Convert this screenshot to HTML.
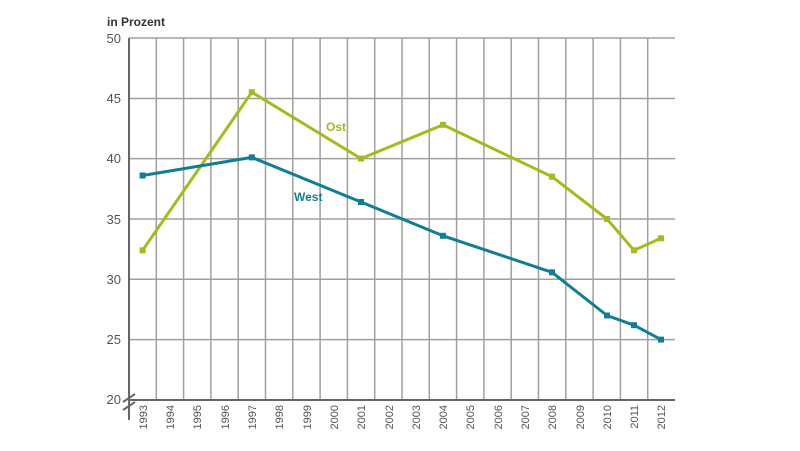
<!DOCTYPE html>
<html><head><style>body{margin:0;background:#fff}svg{display:block}text{font-family:"Liberation Sans",sans-serif}</style></head>
<body>
<svg width="800" height="451" viewBox="0 0 800 451" xmlns="http://www.w3.org/2000/svg">
<text x="107" y="26" font-size="12" font-weight="bold" fill="#333">in Prozent</text>
<g stroke="#a0a0a0" stroke-width="1.5">
<line x1="129" y1="38" x2="675" y2="38"/><line x1="129" y1="98.5" x2="675" y2="98.5"/><line x1="129" y1="158.6" x2="675" y2="158.6"/><line x1="129" y1="219" x2="675" y2="219"/><line x1="129" y1="279.3" x2="675" y2="279.3"/><line x1="129" y1="339.6" x2="675" y2="339.6"/>
<line x1="156.3" y1="38" x2="156.3" y2="400"/><line x1="183.6" y1="38" x2="183.6" y2="400"/><line x1="210.9" y1="38" x2="210.9" y2="400"/><line x1="238.2" y1="38" x2="238.2" y2="400"/><line x1="265.5" y1="38" x2="265.5" y2="400"/><line x1="292.8" y1="38" x2="292.8" y2="400"/><line x1="320.1" y1="38" x2="320.1" y2="400"/><line x1="347.4" y1="38" x2="347.4" y2="400"/><line x1="374.7" y1="38" x2="374.7" y2="400"/><line x1="402" y1="38" x2="402" y2="400"/><line x1="429.3" y1="38" x2="429.3" y2="400"/><line x1="456.6" y1="38" x2="456.6" y2="400"/><line x1="483.9" y1="38" x2="483.9" y2="400"/><line x1="511.2" y1="38" x2="511.2" y2="400"/><line x1="538.5" y1="38" x2="538.5" y2="400"/><line x1="565.8" y1="38" x2="565.8" y2="400"/><line x1="593.1" y1="38" x2="593.1" y2="400"/><line x1="620.4" y1="38" x2="620.4" y2="400"/><line x1="647.7" y1="38" x2="647.7" y2="400"/>
</g>
<g stroke="#666" stroke-width="2"><line x1="129" y1="38" x2="129" y2="420"/><line x1="129" y1="400" x2="675" y2="400"/>
<line x1="123" y1="402" x2="135" y2="394"/><line x1="123" y1="410" x2="135" y2="402"/></g>
<g font-size="13" fill="#555" text-anchor="end">
<text x="121" y="43">50</text><text x="121" y="103">45</text><text x="121" y="163">40</text><text x="121" y="224">35</text><text x="121" y="284">30</text><text x="121" y="344">25</text><text x="121" y="404">20</text></g>
<g font-size="11" fill="#555" text-anchor="end">
<text transform="translate(147,405) rotate(-90)">1993</text><text transform="translate(174,405) rotate(-90)">1994</text><text transform="translate(201,405) rotate(-90)">1995</text><text transform="translate(229,405) rotate(-90)">1996</text><text transform="translate(256,405) rotate(-90)">1997</text><text transform="translate(283,405) rotate(-90)">1998</text><text transform="translate(311,405) rotate(-90)">1999</text><text transform="translate(338,405) rotate(-90)">2000</text><text transform="translate(365,405) rotate(-90)">2001</text><text transform="translate(393,405) rotate(-90)">2002</text><text transform="translate(420,405) rotate(-90)">2003</text><text transform="translate(447,405) rotate(-90)">2004</text><text transform="translate(474,405) rotate(-90)">2005</text><text transform="translate(502,405) rotate(-90)">2006</text><text transform="translate(529,405) rotate(-90)">2007</text><text transform="translate(556,405) rotate(-90)">2008</text><text transform="translate(584,405) rotate(-90)">2009</text><text transform="translate(611,405) rotate(-90)">2010</text><text transform="translate(638,405) rotate(-90)">2011</text><text transform="translate(665,405) rotate(-90)">2012</text></g>
<polyline fill="none" stroke="#a8b91c" stroke-width="3" stroke-linejoin="round" points="142.6,250.3 251.8,92.2 361,158.6 443,124.8 552,176.7 607,219 634,250.3 661,238.3"/>
<g fill="#a8b91c"><rect x="139.6" y="247.3" width="6" height="6"/><rect x="248.8" y="89.2" width="6" height="6"/><rect x="358" y="155.6" width="6" height="6"/><rect x="440" y="121.8" width="6" height="6"/><rect x="549" y="173.7" width="6" height="6"/><rect x="604" y="216" width="6" height="6"/><rect x="631" y="247.3" width="6" height="6"/><rect x="658" y="235.3" width="6" height="6"/></g>
<polyline fill="none" stroke="#107f93" stroke-width="3" stroke-linejoin="round" points="142.6,175.5 251.8,157.4 361,202 443,235.8 552,272.3 607,315.5 634,325.2 661,339.6"/>
<g fill="#107f93"><rect x="139.6" y="172.5" width="6" height="6"/><rect x="248.8" y="154.4" width="6" height="6"/><rect x="358" y="199" width="6" height="6"/><rect x="440" y="232.8" width="6" height="6"/><rect x="549" y="269.3" width="6" height="6"/><rect x="604" y="312.5" width="6" height="6"/><rect x="631" y="322.2" width="6" height="6"/><rect x="658" y="336.6" width="6" height="6"/></g>
<text x="326" y="131" font-size="12" font-weight="bold" fill="#a8b91c">Ost</text>
<text x="294" y="201" font-size="12" font-weight="bold" fill="#107f93">West</text>
</svg>
</body></html>
